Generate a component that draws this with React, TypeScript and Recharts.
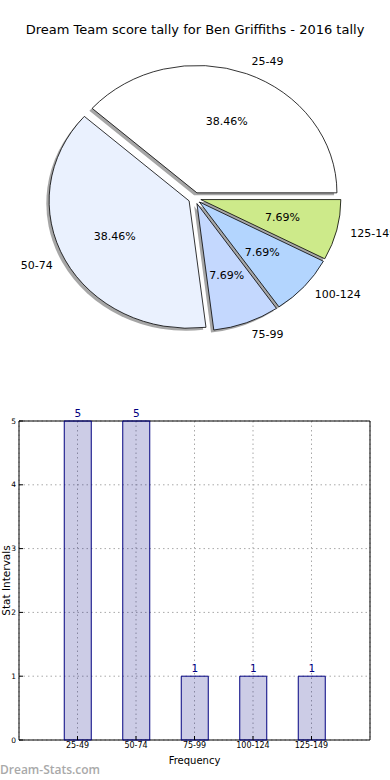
import { PieChart, Pie, Cell, BarChart, Bar, XAxis, YAxis, CartesianGrid, ReferenceArea, LabelList } from 'recharts';

const categories = ['25-49', '50-74', '75-99', '100-124', '125-149'];
const counts = [5, 5, 1, 1, 1];
const sliceColors = ['#ffffff', '#eaf1fe', '#c4d8fe', '#b3d5fe', '#cdea8a'];
const yTicks = [0, 1, 2, 3, 4, 5];
const xTicks = [1, 2, 3, 4, 5];

const pieData = categories.map((name, i) => ({ name, value: counts[i] }));
const barData = categories.map((name, i) => ({ pos: i + 1, name, count: counts[i] }));

const RAD = Math.PI / 180;
const Y_SCALE = 0.91; // the original axes were not square, so the pie is an ellipse
const EXPLODE = 0.045;

function wedgePath(cx: number, cy: number, r: number, start: number, end: number, mid: number, sx = 0, sy = 0) {
  const rx = r;
  const ry = r * Y_SCALE;
  const ox = cx + EXPLODE * rx * Math.cos(mid * RAD) + sx;
  const oy = cy - EXPLODE * ry * Math.sin(mid * RAD) + sy;
  const x1 = ox + rx * Math.cos(start * RAD);
  const y1 = oy - ry * Math.sin(start * RAD);
  const x2 = ox + rx * Math.cos(end * RAD);
  const y2 = oy - ry * Math.sin(end * RAD);
  const large = Math.abs(end - start) > 180 ? 1 : 0;
  return `M${ox},${oy} L${x1},${y1} A${rx},${ry} 0 ${large} 0 ${x2},${y2} Z`;
}

const ShadowWedge = (p: any) => (
  <path
    d={wedgePath(p.cx, p.cy, p.outerRadius, p.startAngle, p.endAngle, p.midAngle, -2.8, 2.5)}
    fill="#4d4d4d"
    fillOpacity={0.5}
    stroke="none"
  />
);

const Wedge = (p: any) => (
  <path
    d={wedgePath(p.cx, p.cy, p.outerRadius, p.startAngle, p.endAngle, p.midAngle)}
    fill={p.fill}
    stroke="#000"
    strokeWidth={0.8}
  />
);

const PieLabel = (p: any) => {
  const { cx, cy, midAngle, outerRadius, percent, name } = p;
  const rx = outerRadius;
  const ry = outerRadius * Y_SCALE;
  const c = Math.cos(midAngle * RAD);
  const s = Math.sin(midAngle * RAD);
  const ox = cx + EXPLODE * rx * c;
  const oy = cy - EXPLODE * ry * s;
  return (
    <g style={{ fontFamily: 'DejaVu Sans', fontSize: 11 }}>
      <text x={ox + 0.6 * rx * c} y={oy - 0.6 * ry * s} textAnchor="middle" dominantBaseline="central" fill="#000">
        {(percent * 100).toFixed(2)}%
      </text>
      <text x={ox + 1.1 * rx * c} y={oy - 1.1 * ry * s} textAnchor={c > 0 ? 'start' : 'end'} dominantBaseline="central" fill="#000">
        {name}
      </text>
    </g>
  );
};

const XLabel = ({ viewBox }: any) => (
  <text x={viewBox.x + viewBox.width / 2} y={viewBox.y + 24} textAnchor="middle"
    style={{ fontFamily: 'DejaVu Sans', fontSize: 10 }} fill="#000">
    Frequency
  </text>
);

const YLabel = ({ viewBox }: any) => {
  const x = 5.5;
  const y = viewBox.y + viewBox.height / 2;
  return (
    <text x={x} y={y} transform={`rotate(-90 ${x} ${y})`} textAnchor="middle" dominantBaseline="central"
      style={{ fontFamily: 'DejaVu Sans', fontSize: 10.5 }} fill="#000">
      Stat Intervals
    </text>
  );
};

const tickFont = { fill: '#000', fontFamily: 'DejaVu Sans' };

export default function App() {
  return (
    <div style={{ position: 'absolute', left: 0, top: 0, width: 390, height: 780, background: '#fff', fontFamily: 'DejaVu Sans', overflow: 'hidden' }}>
      <div style={{ position: 'absolute', top: 22, left: 0, width: 390, textAlign: 'center', fontSize: 13, lineHeight: '16px', color: '#000' }}>
        Dream Team score tally for Ben Griffiths - 2016 tally
      </div>

      <div style={{ position: 'absolute', top: 0, left: 0 }}>
        <PieChart width={390} height={360} margin={{ top: 0, right: 0, bottom: 0, left: 0 }}>
          <Pie data={pieData} dataKey="value" nameKey="name" cx={194.7} cy={198.2} outerRadius={140}
            startAngle={0} endAngle={360} shape={ShadowWedge} isAnimationActive={false} />
          <Pie data={pieData} dataKey="value" nameKey="name" cx={194.7} cy={198.2} outerRadius={140}
            startAngle={0} endAngle={360} shape={Wedge} label={PieLabel} labelLine={false} isAnimationActive={false}>
            {pieData.map((d, i) => (
              <Cell key={d.name} fill={sliceColors[i]} />
            ))}
          </Pie>
        </PieChart>
      </div>

      <div style={{ position: 'absolute', top: 380, left: 0 }}>
        <BarChart width={390} height={400} data={barData} margin={{ top: 41, right: 20, left: 0, bottom: 0 }}>
          <CartesianGrid stroke="#a8a8a8" strokeDasharray="1.5 3" />
          <XAxis
            dataKey="pos"
            type="number"
            domain={[0, 6]}
            ticks={xTicks}
            interval={0}
            tickFormatter={(v: number) => categories[v - 1] ?? ''}
            height={40}
            axisLine={false}
            tickLine={{ stroke: '#000' }}
            tickSize={-4}
            tickMargin={6}
            tick={{ ...tickFont, fontSize: 8 }}
            label={{ content: XLabel }}
          />
          <XAxis
            xAxisId="top"
            orientation="top"
            dataKey="pos"
            type="number"
            domain={[0, 6]}
            allowDataOverflow
            ticks={xTicks}
            interval={0}
            height={0}
            axisLine={false}
            tickLine={{ stroke: '#000' }}
            tickSize={-4}
            tick={false}
          />
          <YAxis
            type="number"
            domain={[0, 5]}
            ticks={yTicks}
            interval={0}
            width={19}
            axisLine={false}
            tickLine={{ stroke: '#000' }}
            tickSize={-4}
            tickMargin={7}
            tick={{ ...tickFont, fontSize: 7.5 }}
            label={{ content: YLabel }}
          />
          <YAxis
            yAxisId="right"
            orientation="right"
            type="number"
            domain={[0, 5]}
            allowDataOverflow
            ticks={yTicks}
            interval={0}
            width={0}
            axisLine={false}
            tickLine={{ stroke: '#000' }}
            tickSize={-4}
            tick={false}
          />
          <ReferenceArea x1={0} x2={6} y1={0} y2={5} fill="none" stroke="#000" strokeWidth={1} />
          <Bar dataKey="count" barSize={27} fill="#000080" fillOpacity={0.2} stroke="#000080" strokeWidth={1} isAnimationActive={false}>
            <LabelList dataKey="count" position="top" offset={4} fill="#000080" fontSize={10.5}
              style={{ fontFamily: 'DejaVu Sans', fontSize: 10.5 }} />
          </Bar>
        </BarChart>
      </div>

      <div style={{ position: 'absolute', left: 0, top: 761, fontFamily: 'Open Sans', fontWeight: 600, fontSize: 12, color: '#a9a9a9' }}>
        Dream-Stats.com
      </div>
    </div>
  );
}
